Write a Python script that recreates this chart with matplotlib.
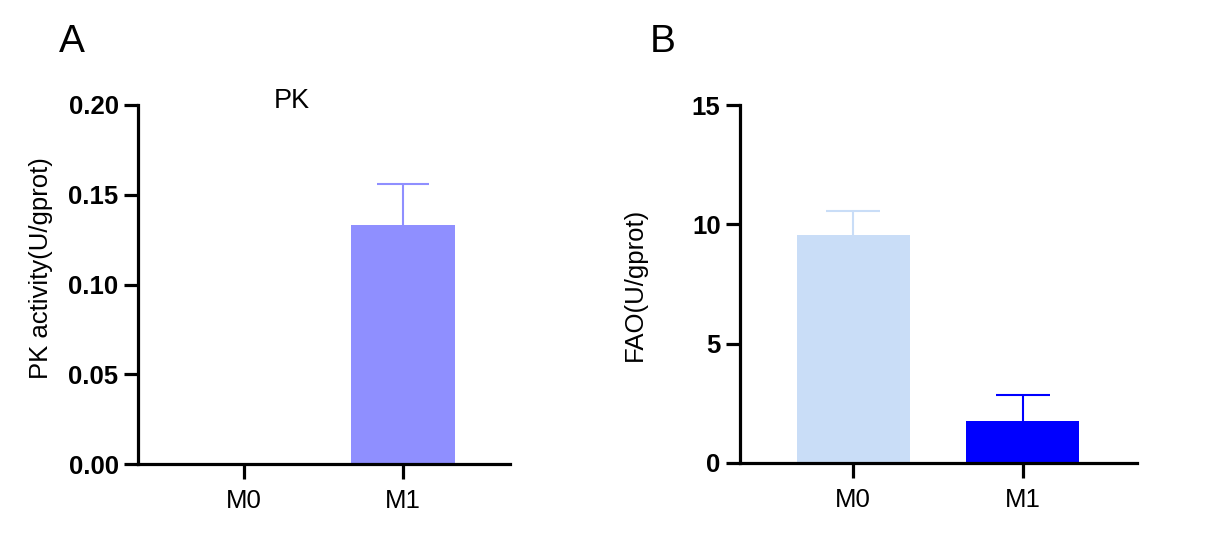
import matplotlib
matplotlib.use("Agg")
import matplotlib.pyplot as plt

categories = ["M0", "M1"]
pk_mean = [0.0, 0.133]
pk_err = [0.0, 0.023]
fao_mean = [9.55, 1.77]
fao_err = [1.0, 1.09]

pk_colors = ["#8f8fff", "#8f8fff"]
fao_colors = ["#c9ddf7", "#0000ff"]

plt.rcParams['font.family'] = ['Liberation Sans', 'DejaVu Sans']

W, H = 1218, 537
fig = plt.figure(figsize=(W / 100, H / 100), dpi=100)

axA = fig.add_axes([138 / W, (H - 464) / H, 372 / W, 359 / H])
axB = fig.add_axes([740 / W, (H - 463) / H, 397 / W, 358 / H])


def style(ax, ylim, yticks, yticklabels, ylabel, labx, laby):
    for s in ["top", "right"]:
        ax.spines[s].set_visible(False)
    for s in ["left", "bottom"]:
        ax.spines[s].set_linewidth(2.3)
    ax.set_ylim(*ylim)
    ax.set_xlim(-0.669, 1.675)
    ax.set_yticks(yticks)
    ax.set_yticklabels(yticklabels, fontsize=18.5, fontweight='bold')
    ax.set_xticks(range(len(categories)))
    ax.set_xticklabels(categories, fontsize=18.5)
    ax.tick_params(axis='y', length=10, width=2.3, pad=4)
    ax.tick_params(axis='x', length=11, width=2.3, pad=7)
    ax.set_ylabel(ylabel, fontsize=18.5)
    ax.yaxis.set_label_coords(labx, laby)


def upper_err(ax, xi, mean, err, color, capsize):
    cont = ax.errorbar(xi, mean, yerr=[[0], [err]], fmt='none',
                       ecolor=color, elinewidth=1.5, capsize=capsize,
                       capthick=1.5, zorder=1)
    caps = cont.lines[1]
    if caps:
        caps[0].set_visible(False)


x = list(range(len(categories)))

for i in x:
    if pk_mean[i] > 0:
        axA.bar(i, pk_mean[i], width=0.66, color=pk_colors[i], zorder=2)
        upper_err(axA, i, pk_mean[i], pk_err[i], pk_colors[i], 18.5)
style(axA, (0, 0.2), [0, 0.05, 0.10, 0.15, 0.20],
      ["0.00", "0.05", "0.10", "0.15", "0.20"],
      "PK activity(U/gprot)", -0.228, 0.546)

for i in x:
    axB.bar(i, fao_mean[i], width=0.67, color=fao_colors[i], zorder=2)
    upper_err(axB, i, fao_mean[i], fao_err[i], fao_colors[i], 19.5)
style(axB, (0, 15), [0, 5, 10, 15], ["0", "5", "10", "15"],
      "FAO(U/gprot)", -0.235, 0.5)

fig.text(292 / W, (H - 108) / H, "PK", fontsize=19.5, ha='center', va='baseline')
fig.text(59 / W, (H - 52) / H, "A", fontsize=28, ha='left', va='baseline')
fig.text(650 / W, (H - 52) / H, "B", fontsize=28, ha='left', va='baseline')

fig.savefig("out.png", dpi=100)
